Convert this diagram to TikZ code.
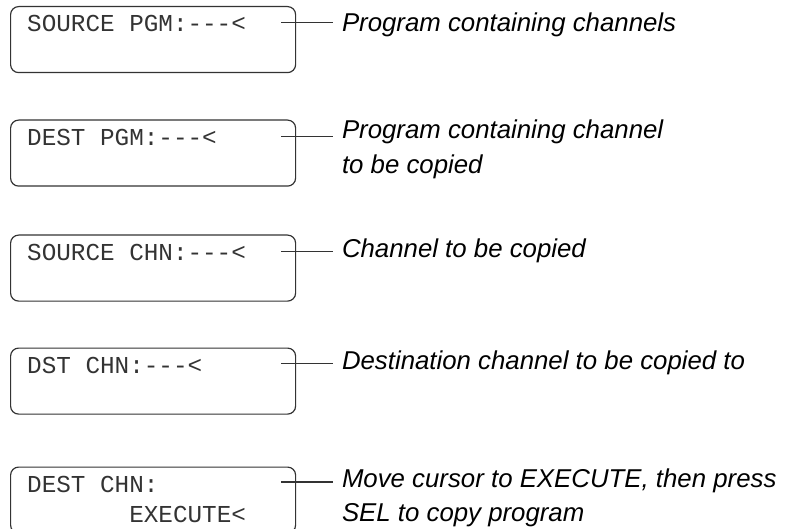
\documentclass[tikz,border=0pt]{standalone}
\usepackage{fontspec}
\setmainfont{Liberation Sans}
\newfontfamily\lcdfont{Liberation Mono}
\begin{document}
\begin{tikzpicture}[x=1pt,y=-1pt,
  lcdbox/.style={draw=black!80, line width=1.2pt, rounded corners=8pt,
    minimum width=285pt, minimum height=66pt, inner sep=0pt, anchor=north west},
  lcdtext/.style={anchor=base west, inner sep=0pt, font=\lcdfont\fontsize{24.3}{30}\selectfont,
    text=black!80, align=left},
  note/.style={anchor=base west, inner sep=0pt, outer sep=0pt,
    font=\itshape\fontsize{25.8}{34.5}\selectfont, align=left},
  leader/.style={draw=black!80, line width=1.1pt}]
\useasboundingbox (0,0) rectangle (792,529);

% LCD screens
\node[lcdbox] (b1) at (10,6) {};
\node[lcdbox] (b2) at (10,119.5) {};
\node[lcdbox] (b3) at (10,234.5) {};
\node[lcdbox] (b4) at (10,347.5) {};
\node[lcdbox] (b5) at (10,466.5) {};

% screen contents (base anchor sits on the last line)
\node[lcdtext] (t1) at (27,32) {SOURCE PGM:---<};
\node[lcdtext] (t2) at (27,145.5) {DEST PGM:---<};
\node[lcdtext] (t3) at (27,260.5) {SOURCE CHN:---<};
\node[lcdtext] (t4) at (27,373.5) {DST CHN:---<};
\node[lcdtext] (t5) at (27,522.5) {DEST CHN:\\\phantom{MMMMMMM}EXECUTE<};

% explanations
\node[note] (n1) at (342,32) {Program containing channels};
\node[note] (n2) at (342,173.5) {Program containing channel\\to be copied};
\node[note] (n3) at (342,258) {Channel to be copied};
\node[note] (n4) at (342,369) {Destination channel to be copied to};
\node[note] (n5) at (342,521.5) {Move cursor to EXECUTE, then press\\SEL to copy program};

% leader lines from each screen to its note
\coordinate (s1) at (281,22.7);
\coordinate (s2) at (281,136.5);
\coordinate (s3) at (281,251.5);
\coordinate (s4) at (281,363.5);
\coordinate (s5) at (281,482);
\foreach \i in {1,...,5}
  \draw[leader] (s\i) -- ([xshift=-9pt]s\i -| n\i.west);
\end{tikzpicture}
\end{document}
